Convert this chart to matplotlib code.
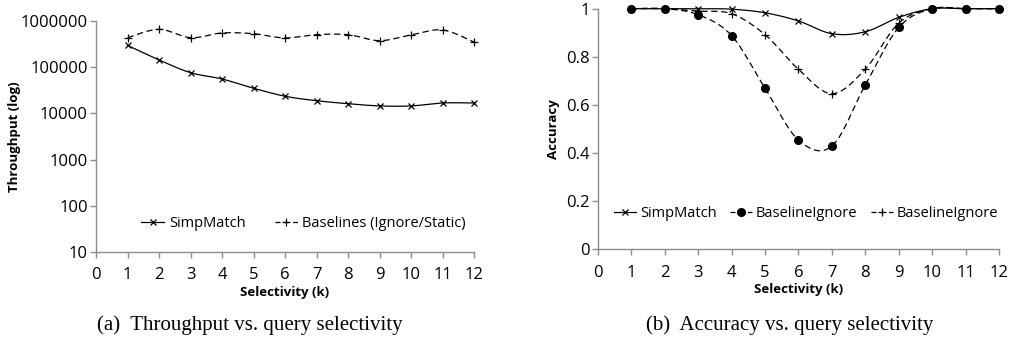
import numpy as np
import matplotlib
matplotlib.use("Agg")
import matplotlib.pyplot as plt
from matplotlib.lines import Line2D

# ---------------- DATA ----------------
k = [1, 2, 3, 4, 5, 6, 7, 8, 9, 10, 11, 12]

thr_simpmatch = [295000, 143000, 76000, 55500, 35000, 23500, 18800, 16200, 14500, 14500, 16800, 16800]
thr_baselines = [435000, 660000, 435000, 550000, 530000, 430000, 505000, 505000, 375000, 500000, 640000, 350000]

acc_simpmatch = [1.0, 1.0, 1.0, 0.998, 0.983, 0.949, 0.896, 0.904, 0.964, 1.0, 1.0, 1.0]
acc_ignore = [1.0, 1.0, 0.975, 0.888, 0.669, 0.454, 0.429, 0.683, 0.922, 1.0, 1.0, 1.0]
acc_ignore2 = [1.0, 1.0, 0.99, 0.979, 0.892, 0.748, 0.647, 0.749, 0.94, 1.0, 1.0, 1.0]

x_ticks = list(range(0, 13))
thr_ticks = [10, 100, 1000, 10000, 100000, 1000000]
acc_ticks = [0, 0.2, 0.4, 0.6, 0.8, 1]

GREY = "#8c8c8c"
TICK_FONT = "Open Sans"


def smooth(xs, ys, n=20):
    """Excel-style smoothed line (Catmull-Rom bezier) through the points."""
    xs = np.asarray(xs, float)
    ys = np.asarray(ys, float)
    px = np.concatenate([[xs[0]], xs, [xs[-1]]])
    py = np.concatenate([[ys[0]], ys, [ys[-1]]])
    out_x, out_y = [], []
    t = np.linspace(0, 1, n)
    for i in range(1, len(px) - 2):
        p0 = np.array([px[i], py[i]])
        p3 = np.array([px[i + 1], py[i + 1]])
        c1 = p0 + (p3 - np.array([px[i - 1], py[i - 1]])) / 6
        c2 = p3 - (np.array([px[i + 2], py[i + 2]]) - p0) / 6
        b = ((1 - t) ** 3)[:, None] * p0 + (3 * (1 - t) ** 2 * t)[:, None] * c1 \
            + (3 * (1 - t) * t ** 2)[:, None] * c2 + (t ** 3)[:, None] * p3
        out_x.extend(b[:, 0])
        out_y.extend(b[:, 1])
    return np.array(out_x), np.array(out_y)


def style_axes(ax):
    for s in ["top", "right"]:
        ax.spines[s].set_visible(False)
    for s in ["left", "bottom"]:
        ax.spines[s].set_color(GREY)
        ax.spines[s].set_linewidth(1.0)
    ax.tick_params(axis="both", colors=GREY, length=4, width=1.0, labelcolor="black",
                   labelsize=12)
    ax.tick_params(axis="y", pad=2)
    ax.tick_params(axis="x", pad=7)
    for lbl in ax.get_xticklabels() + ax.get_yticklabels():
        lbl.set_family(TICK_FONT)


fig = plt.figure(figsize=(10.14, 3.45), dpi=100)

# ---------------- (a) Throughput ----------------
ax1 = fig.add_axes([0.0947, 0.2696, 0.3728, 0.6696])
ax1.set_yscale("log")
ax1.set_xlim(0, 12)
ax1.set_ylim(10, 1000000)

sx, sy = smooth(k, np.log10(thr_simpmatch))
ax1.plot(sx, 10 ** sy, color="black", lw=0.9, clip_on=False)
ax1.plot(k, thr_simpmatch, ls="none", marker="x", ms=5, mew=0.9, color="black", clip_on=False)
bx, by = smooth(k, np.log10(thr_baselines))
ax1.plot(bx, 10 ** by, color="black", lw=0.9, ls=(0, (5, 3)), clip_on=False)
ax1.plot(k, thr_baselines, ls="none", marker="+", ms=6, mew=0.9, color="black", clip_on=False)

ax1.set_xticks(x_ticks)
ax1.set_yticks(thr_ticks)
ax1.set_yticklabels([str(v) for v in thr_ticks])
ax1.minorticks_off()
style_axes(ax1)
ax1.set_xlabel("Selectivity (k)", fontsize=9.5, fontweight="bold", family=TICK_FONT, labelpad=2)
ax1.set_ylabel("Throughput (log)", fontsize=9.5, fontweight="bold", family=TICK_FONT, labelpad=0)

h1 = [Line2D([], [], color="black", lw=0.9, marker="x", ms=5, mew=0.9),
      Line2D([], [], color="black", lw=0.9, ls=(0, (4, 3)), marker="+", ms=6, mew=0.9)]
leg1 = ax1.legend(h1, ["SimpMatch", "Baselines (Ignore/Static)"], loc="center",
                  bbox_to_anchor=(0.549, 0.125), ncol=2, frameon=False, handlelength=1.6,
                  handletextpad=0.3, columnspacing=2.0, prop={"family": TICK_FONT, "size": 10.5})

# ---------------- (b) Accuracy ----------------
ax2 = fig.add_axes([0.5897, 0.2774, 0.3955, 0.6974])
ax2.set_xlim(0, 12)
ax2.set_ylim(0, 1)

cx, cy = smooth(k, acc_simpmatch)
ax2.plot(cx, cy, color="black", lw=0.9, clip_on=False)
ax2.plot(k, acc_simpmatch, ls="none", marker="x", ms=5, mew=0.9, color="black", clip_on=False)
cx, cy = smooth(k, acc_ignore2)
ax2.plot(cx, cy, color="black", lw=0.9, ls=(0, (5, 3)), clip_on=False)
ax2.plot(k, acc_ignore2, ls="none", marker="+", ms=6, mew=0.9, color="black", clip_on=False)
cx, cy = smooth(k, acc_ignore)
ax2.plot(cx, cy, color="black", lw=0.9, ls=(0, (5, 3)), clip_on=False)
ax2.plot(k, acc_ignore, ls="none", marker="o", ms=5.5, color="black", clip_on=False)

ax2.set_xticks(x_ticks)
ax2.set_yticks(acc_ticks)
ax2.set_yticklabels(["0", "0.2", "0.4", "0.6", "0.8", "1"])
style_axes(ax2)
ax2.set_xlabel("Selectivity (k)", fontsize=9.5, fontweight="bold", family=TICK_FONT, labelpad=2)
ax2.set_ylabel("Accuracy", fontsize=9.5, fontweight="bold", family=TICK_FONT, labelpad=4)

h2 = [Line2D([], [], color="black", lw=0.9, marker="x", ms=5, mew=0.9),
      Line2D([], [], color="black", lw=0.9, ls=(0, (4, 3)), marker="o", ms=5.5),
      Line2D([], [], color="black", lw=0.9, ls=(0, (4, 3)), marker="+", ms=6, mew=0.9)]
ax2.legend(h2, ["SimpMatch", "BaselineIgnore", "BaselineIgnore"], loc="center",
           bbox_to_anchor=(0.519, 0.15), ncol=3, frameon=False, handlelength=1.5,
           handletextpad=0.3, columnspacing=0.9, prop={"family": TICK_FONT, "size": 10.5})

# ---------------- captions ----------------
fig.text(0.2465, 0.058, "(a)  Throughput vs. query selectivity", ha="center", va="center",
         family="Liberation Serif", fontsize=15)
fig.text(0.779, 0.058, "(b)  Accuracy vs. query selectivity", ha="center", va="center",
         family="Liberation Serif", fontsize=15)

fig.savefig("out.png", dpi=100)
